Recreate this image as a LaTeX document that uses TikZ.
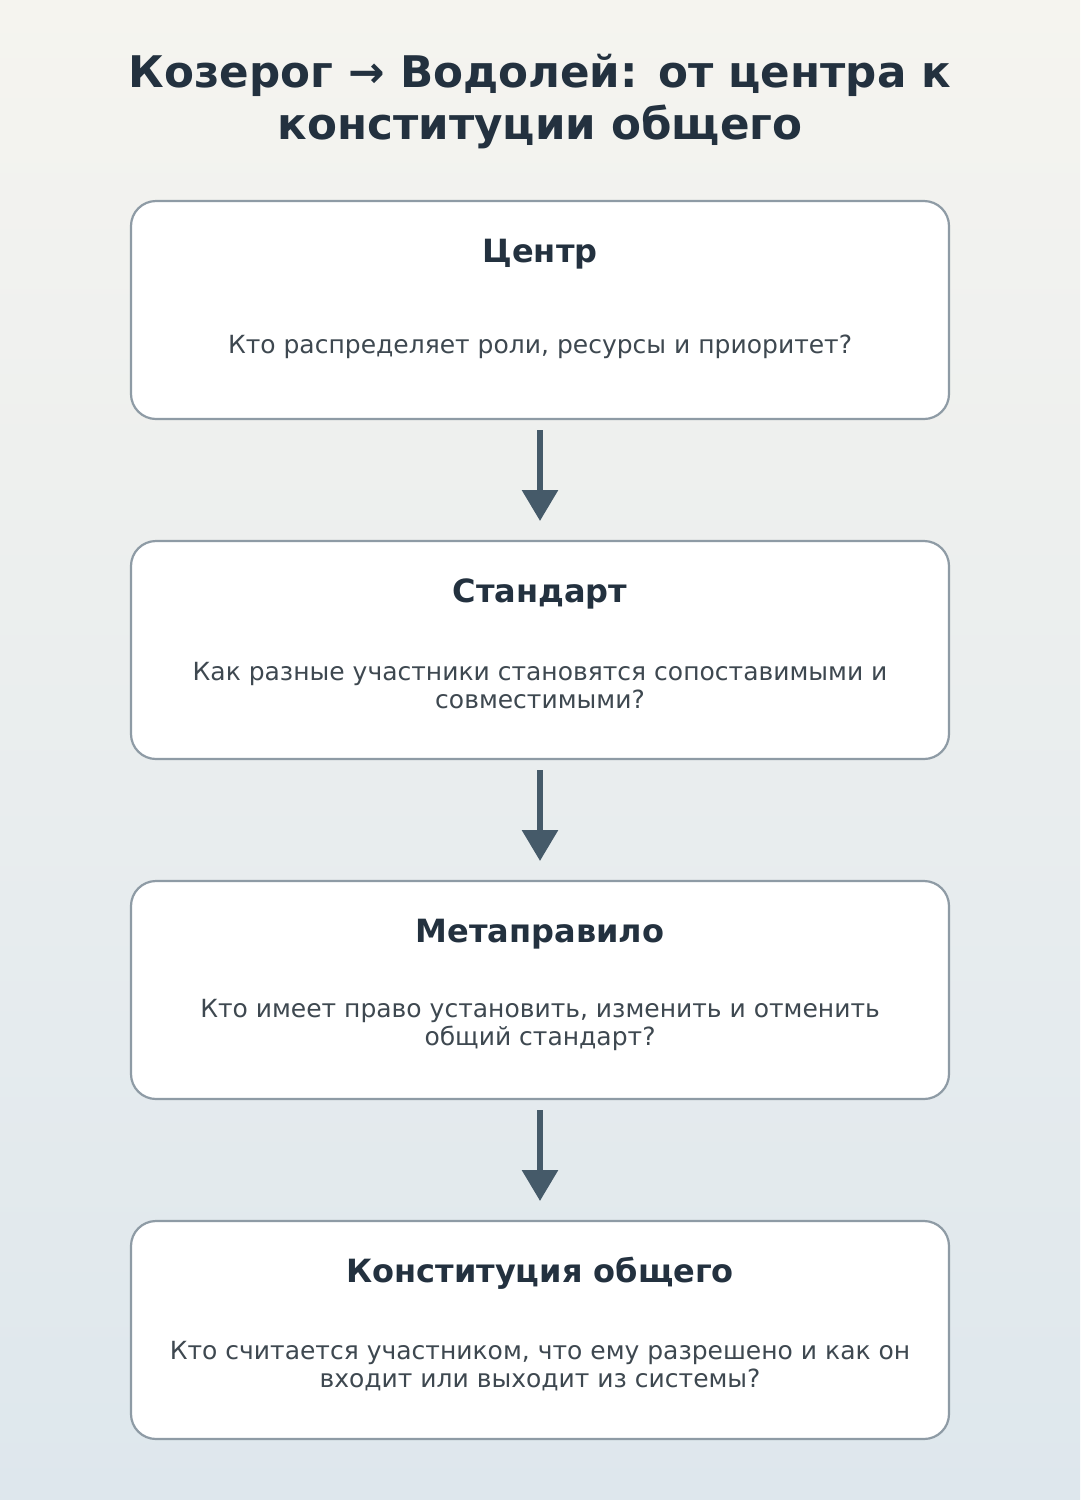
\documentclass[tikz,border=0pt]{standalone}
\usepackage{fontspec}
\setmainfont{DejaVu Sans}
\usepackage{tikz}
\usetikzlibrary{calc,positioning,arrows.meta}

\definecolor{bgtop}{RGB}{245,244,239}
\definecolor{bgbot}{RGB}{222,231,237}
\definecolor{titlecol}{RGB}{35,49,63}
\definecolor{bodycol}{RGB}{62,72,80}
\definecolor{framecol}{RGB}{142,155,165}
\definecolor{arrowcol}{RGB}{69,90,105}

\tikzset{
  stage/.style={draw=framecol, line width=2.2pt, fill=white, rounded corners=25pt,
    minimum width=818pt, minimum height=218pt, inner sep=0pt, outer sep=0pt},
  stagetitle/.style={anchor=base, text=titlecol, font=\fontsize{32}{38}\selectfont\bfseries},
  stagetext/.style={anchor=base, text=bodycol, align=center,
    font=\fontsize{25}{28}\selectfont},
  flow/.style={arrowcol, line width=6pt, -{Triangle[width=35pt,length=31pt]},
    shorten <=11pt, shorten >=20pt}
}

\begin{document}
\begin{tikzpicture}[x=1pt,y=-1pt,node distance=122pt]
\shade[top color=bgtop, bottom color=bgbot] (0,0) rectangle (1080,1500);
\useasboundingbox (0,0) rectangle (1080,1500);

% heading
\node (head) at (540,102) [align=center, text=titlecol,
  font=\fontsize{43.6}{52}\selectfont\bfseries]
  {Козерог → Водолей: от центра к\\конституции общего};

% the four stages, top to bottom
\node (center) at (540,310) [stage] {};
\node (standard) [stage, below=of center] {};
\node (meta) [stage, below=of standard] {};
\node (const) [stage, below=of meta] {};

% titles sit on a baseline 61 below the box top, questions end near the bottom
\node (center_t) at ($ (center.north) + (0,61) $) [stagetitle] {Центр};
\node (center_q) at ($ (center.north) + (0,152) $) [stagetext]
  {Кто распределяет роли, ресурсы и приоритет?};

\node (standard_t) at ($ (standard.north) + (0,61) $) [stagetitle] {Стандарт};
\node (standard_q) at ($ (standard.north) + (0,167) $) [stagetext]
  {Как разные участники становятся сопоставимыми и\\совместимыми?};

\node (meta_t) at ($ (meta.north) + (0,61) $) [stagetitle] {Метаправило};
\node (meta_q) at ($ (meta.north) + (0,164) $) [stagetext]
  {Кто имеет право установить, изменить и отменить\\общий стандарт?};

\node (const_t) at ($ (const.north) + (0,61) $) [stagetitle] {Конституция общего};
\node (const_q) at ($ (const.north) + (0,166) $) [stagetext]
  {Кто считается участником, что ему разрешено и как он\\входит или выходит из системы?};

% connectors
\draw[flow] (center.south) -- (standard.north);
\draw[flow] (standard.south) -- (meta.north);
\draw[flow] (meta.south) -- (const.north);
\end{tikzpicture}
\end{document}
